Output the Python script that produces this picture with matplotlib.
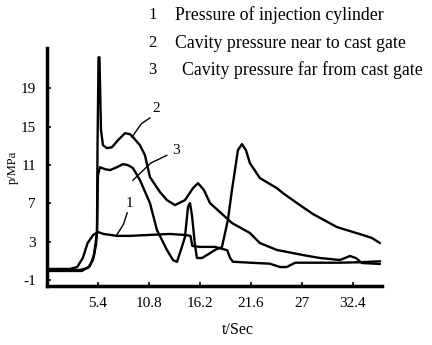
import matplotlib
matplotlib.use("Agg")
import matplotlib.pyplot as plt

# Curve 1: pressure of injection cylinder
x1 = [0, 2.4, 3.2, 3.8, 4.3, 4.9, 5.4, 6.0, 7.4, 8.8, 10.9, 13.0, 14.6, 15.2, 15.4, 16.2,
      17.8, 19.1, 19.4, 19.7, 21.5, 23.6, 24.7, 25.4, 26.3, 28.9, 31.0, 33.2, 35.3]
y1 = [0.15, 0.15, 0.35, 1.3, 2.85, 3.7, 4.0, 3.8, 3.6, 3.6, 3.7, 3.8, 3.7, 3.6, 2.55, 2.45,
      2.45, 2.1, 1.3, 0.9, 0.8, 0.7, 0.35, 0.35, 0.8, 0.8, 0.8, 0.85, 0.95]

# Curve 2: cavity pressure near to cast gate
x2 = [0, 3.5, 4.34, 4.87, 5.19, 5.30, 5.35, 5.46, 5.56, 5.72, 5.93, 6.36, 6.89, 7.52, 8.26,
      8.79, 9.11, 9.85, 10.38, 10.91, 11.97, 12.71, 13.56, 14.62, 15.47, 16.0, 16.63, 17.27,
      18.33, 19.60, 21.50, 22.56, 24.36, 27.12, 28.92, 31.04, 32.10, 32.73, 33.37, 35.28]
y2 = [0.04, 0.04, 0.25, 1.08, 2.65, 4.0, 12.54, 22.23, 22.23, 14.63, 13.06, 12.75, 12.85,
      13.58, 14.31, 14.21, 13.90, 13.06, 12.02, 9.73, 8.17, 7.33, 6.81, 7.33, 8.58, 9.10,
      8.38, 7.02, 6.08, 4.94, 3.90, 2.85, 2.13, 1.60, 1.29, 1.08, 1.5, 1.29, 0.77, 0.67]

# Curve 3: cavity pressure far from cast gate
x3 = [0, 3.71, 4.56, 4.98, 5.19, 5.30, 5.40, 5.61, 6.14, 6.67, 7.42, 8.05, 8.58, 9.11, 9.85,
      10.91, 11.65, 12.71, 13.35, 13.77, 14.19, 14.62, 14.94, 15.15, 15.36, 15.68, 15.89,
      16.42, 16.95, 17.80, 18.54, 19.17, 19.60, 19.92, 20.23, 20.66, 21.08, 21.50, 22.56,
      24.36, 25.0, 26.80, 28.18, 30.72, 32.10, 33.47, 34.43, 35.28]
y3 = [-0.06, -0.06, 0.46, 1.60, 3.17, 4.0, 9.94, 10.77, 10.56, 10.46, 10.77, 11.08, 10.98,
      10.67, 9.42, 7.02, 4.21, 2.13, 1.08, 0.88, 2.13, 3.48, 6.60, 7.02, 5.77, 2.65, 1.29,
      1.29, 1.60, 2.13, 2.44, 5.25, 8.38, 10.46, 12.54, 13.17, 12.54, 11.19, 9.63, 8.58,
      8.06, 6.81, 5.88, 4.52, 4.10, 3.69, 3.38, 2.85]

xticks = [5.4, 10.8, 16.2, 21.6, 27, 32.4]
xticklabels = ["5.4", "10.8", "16.2", "21.6", "27", "32.4"]
yticks = [-1, 3, 7, 11, 15, 19]
legend_nums = ["1", "2", "3"]
legend_texts = ["Pressure of injection cylinder",
                "Cavity pressure near to cast gate",
                "Cavity pressure far from cast gate"]

plt.rcParams['font.family'] = ['Liberation Serif', 'DejaVu Serif']
plt.rcParams['axes.unicode_minus'] = False

W, H = 432, 345
fig = plt.figure(figsize=(W / 100, H / 100), dpi=100)
ax = fig.add_axes([47 / W, (H - 286) / H, (382 - 47) / W, (286 - 48) / H])

for xs, ys in [(x1, y1), (x2, y2), (x3, y3)]:
    ax.plot(xs, ys, color='black', lw=1.7, solid_joinstyle='round', solid_capstyle='round')

ax.set_xlim(0, 35.5)
ax.set_ylim(-1.63, 23.2)
for s in ['top', 'right']:
    ax.spines[s].set_visible(False)
for s in ['left', 'bottom']:
    ax.spines[s].set_linewidth(2.5)
ax.set_xticks(xticks)
ax.set_xticklabels(xticklabels)
ax.set_yticks(yticks)
ax.tick_params(direction='in', length=3, width=1.2, labelsize=11, pad=8)
ax.set_xlabel("t/Sec", fontsize=11.5)
ax.xaxis.set_label_coords(0.57, -0.15)
ax.set_ylabel("p/MPa", fontsize=9)
ax.yaxis.set_label_coords(-0.085, 0.5)

# curve labels with leader lines
ax.plot([9.0, 10.0, 10.9], [13.9, 15.3, 15.9], color='black', lw=1.0)
ax.text(11.2, 16.2, "2", fontsize=11, va='bottom')
ax.plot([9.1, 11.0, 12.7], [9.4, 11.2, 12.0], color='black', lw=1.0)
ax.text(13.3, 11.8, "3", fontsize=11, va='bottom')
ax.plot([7.4, 8.1, 8.5], [3.7, 4.8, 6.0], color='black', lw=1.0)
ax.text(8.3, 6.3, "1", fontsize=11, va='bottom')

ys_leg = [15, 43, 70]
xs_txt = [175, 175, 182]
for n, t, yy, xx in zip(legend_nums, legend_texts, ys_leg, xs_txt):
    fig.text(148 / W, 1 - yy / H, n, fontsize=12, va='center', ha='left')
    fig.text(xx / W, 1 - yy / H, t, fontsize=12.8, va='center', ha='left')

fig.savefig("out.png", dpi=100)
